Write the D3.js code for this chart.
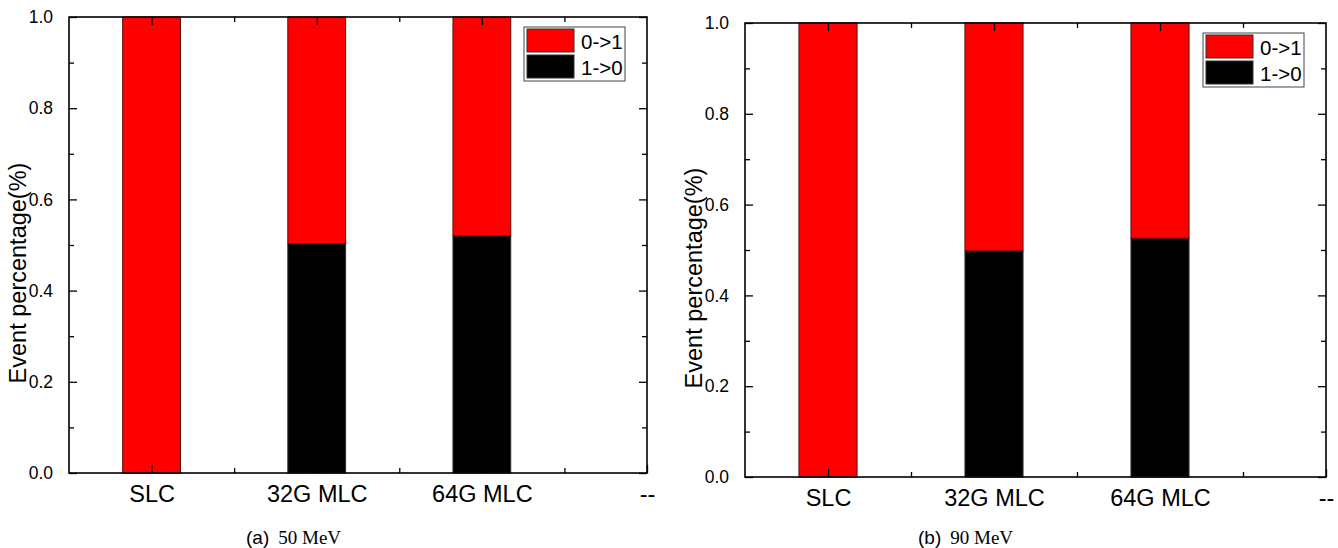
<!DOCTYPE html>
<html>
<head>
<meta charset="utf-8">
<script src="https://cdn.jsdelivr.net/npm/d3@7"></script>
<style>
  body { margin: 0; background: #fff; }
  svg { display: block; }
  .tick text { font-family: "Liberation Sans", Arial, sans-serif; fill: #000; }
</style>
</head>
<body>
<svg id="chart" width="1338" height="548"></svg>
<script>
const categories = ['SLC', '32G MLC', '64G MLC', '--'];
const seriesNames = ['0->1', '1->0'];
const seriesColors = ['#ff0000', '#000000'];
const yMajorTicks = [0, 0.2, 0.4, 0.6, 0.8, 1.0];
const yMinorTicks = [0.1, 0.3, 0.5, 0.7, 0.9];

// values per bar (first three categories), bottom segment is 1->0
const a_oneToZero = [0, 0.503, 0.520];
const a_zeroToOne = [1.0, 0.497, 0.480];
const b_oneToZero = [0, 0.498, 0.526];
const b_zeroToOne = [1.0, 0.502, 0.474];

const svg = d3.select('#chart');

/**
 * Draws one stacked-bar panel
 */
function drawPanel(box, lower, upper, caption, captionValue, labelX) {
  const g = svg.append('g');
  const x = d3.scaleLinear().domain([0.5, 4]).range([box.left, box.right]);
  const y = d3.scaleLinear().domain([0, 1]).range([box.bottom, box.top]);
  const barW = x(0.35) - x(0);

  const rows = lower.map((v, i) => ({ pos: i + 1, lower: v, upper: upper[i] }));

  // bottom segment (1->0)
  g.selectAll('.bar-low')
    .data(rows.filter(d => d.lower > 0))
    .enter()
    .append('rect')
    .attr('x', d => x(d.pos) - barW / 2)
    .attr('y', d => y(d.lower))
    .attr('width', barW)
    .attr('height', d => y(0) - y(d.lower))
    .attr('fill', seriesColors[1])
    .attr('stroke', '#333')
    .attr('stroke-width', 1);

  // top segment (0->1)
  g.selectAll('.bar-up')
    .data(rows)
    .enter()
    .append('rect')
    .attr('x', d => x(d.pos) - barW / 2)
    .attr('y', d => y(d.lower + d.upper))
    .attr('width', barW)
    .attr('height', d => y(d.lower) - y(d.lower + d.upper))
    .attr('fill', seriesColors[0])
    .attr('stroke', '#5a0a0a')
    .attr('stroke-width', 1);

  // axes
  const left = g.append('g').attr('transform', `translate(${box.left},0)`)
    .call(d3.axisLeft(y).tickValues(yMajorTicks).tickFormat(d3.format('.1f')).tickSize(-8).tickPadding(16));
  left.selectAll('text').style('font-size', '17.5px');
  g.append('g').attr('transform', `translate(${box.left},0)`)
    .call(d3.axisLeft(y).tickValues(yMinorTicks).tickFormat('').tickSize(-5));
  g.append('g').attr('transform', `translate(${box.right},0)`)
    .call(d3.axisRight(y).tickValues(yMajorTicks).tickFormat('').tickSize(-8));
  g.append('g').attr('transform', `translate(${box.right},0)`)
    .call(d3.axisRight(y).tickValues(yMinorTicks).tickFormat('').tickSize(-5));

  const bottom = g.append('g').attr('transform', `translate(0,${box.bottom})`)
    .call(d3.axisBottom(x).tickValues([1, 2, 3, 4]).tickFormat(d => categories[d - 1]).tickSize(-8).tickPadding(12));
  bottom.selectAll('text').style('font-size', '23.5px');
  g.append('g').attr('transform', `translate(0,${box.bottom})`)
    .call(d3.axisBottom(x).tickValues([1.5, 2.5, 3.5]).tickFormat('').tickSize(-5));
  g.append('g').attr('transform', `translate(0,${box.top})`)
    .call(d3.axisTop(x).tickValues([1, 2, 3]).tickFormat('').tickSize(-8));
  g.append('g').attr('transform', `translate(0,${box.top})`)
    .call(d3.axisTop(x).tickValues([1.5, 2.5, 3.5]).tickFormat('').tickSize(-5));

  g.selectAll('.domain').remove();
  g.selectAll('.tick line').attr('stroke', '#000').attr('stroke-width', 1.3);

  // frame
  g.append('rect')
    .attr('x', box.left).attr('y', box.top)
    .attr('width', box.right - box.left).attr('height', box.bottom - box.top)
    .attr('fill', 'none').attr('stroke', '#000').attr('stroke-width', 1.6);

  // y label
  g.append('text')
    .attr('transform', `translate(${labelX},${(box.top + box.bottom) / 2 + 28}) rotate(-90)`)
    .attr('text-anchor', 'middle')
    .attr('dominant-baseline', 'central')
    .style('font-family', '"Liberation Sans", Arial, sans-serif')
    .style('font-size', '23.5px')
    .text('Event percentage(%)');

  // legend
  const lg = g.append('g').attr('transform', `translate(${box.right - 123},${box.top + 10})`);
  lg.append('rect').attr('width', 101).attr('height', 54)
    .attr('fill', '#fff').attr('stroke', '#444').attr('stroke-width', 1);
  seriesNames.forEach((name, i) => {
    lg.append('rect')
      .attr('x', 3).attr('y', 2 + i * 26)
      .attr('width', 47).attr('height', 23)
      .attr('fill', seriesColors[i]).attr('stroke', '#333');
    lg.append('text')
      .attr('x', 57).attr('y', 14 + i * 26)
      .attr('dominant-baseline', 'central')
      .style('font-family', '"Liberation Sans", Arial, sans-serif')
      .style('font-size', '20.5px')
      .text(name);
  });

  // caption
  const cap = g.append('text')
    .attr('x', caption.x).attr('y', caption.y)
    .style('font-size', '19px');
  cap.append('tspan')
    .style('font-family', '"Liberation Sans", Arial, sans-serif')
    .text(caption.label);
  cap.append('tspan')
    .attr('dx', 9)
    .style('font-family', '"Liberation Serif", "Times New Roman", serif')
    .text(captionValue);
}

drawPanel({ left: 69, right: 647, top: 17, bottom: 473 }, a_oneToZero, a_zeroToOne,
  { x: 246, y: 544, label: '(a)' }, '50 MeV', 18);
drawPanel({ left: 745, right: 1326, top: 23, bottom: 477 }, b_oneToZero, b_zeroToOne,
  { x: 918, y: 544, label: '(b)' }, '90 MeV', 694);
</script>
</body>
</html>
